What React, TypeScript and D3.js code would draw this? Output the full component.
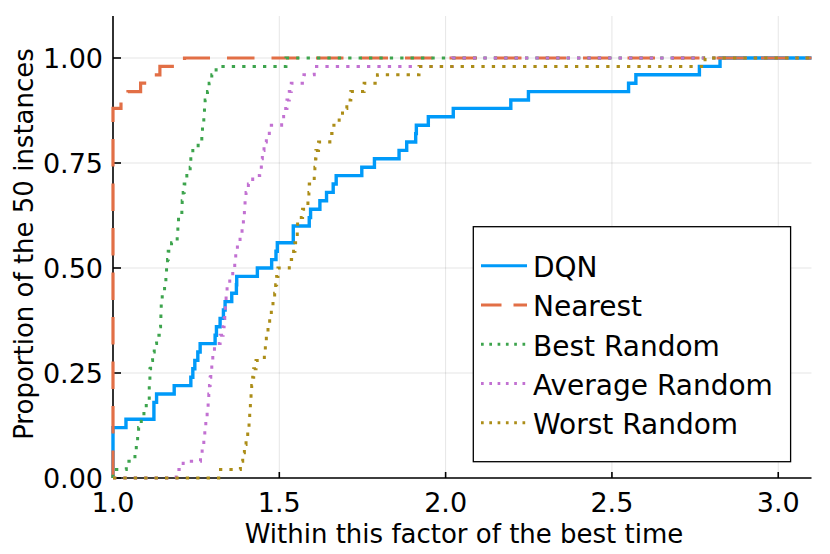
import React from 'react';
import * as d3 from 'd3';

// sorted ratios (time / best time) of the 50 instances
const dqnRatios = [
  1.0, 1.0, 1.0, 1.0, 1.0, 1.0, 1.039, 1.123, 1.123, 1.131,
  1.184, 1.234, 1.24, 1.246, 1.255, 1.262, 1.307, 1.311, 1.322, 1.332,
  1.337, 1.357, 1.371, 1.372, 1.434, 1.477, 1.49, 1.494, 1.542, 1.542,
  1.59, 1.594, 1.622, 1.642, 1.662, 1.671, 1.748, 1.786, 1.86, 1.883,
  1.91, 1.912, 1.948, 2.023, 2.196, 2.249, 2.55, 2.572, 2.763, 2.825,
];

const nearestRatios = [
  1.0, 1.0, 1.0, 1.0, 1.0, 1.0, 1.0, 1.0, 1.0, 1.0,
  1.0, 1.0, 1.0, 1.0, 1.0, 1.0, 1.0, 1.0, 1.0, 1.0,
  1.0, 1.0, 1.0, 1.0, 1.0, 1.0, 1.0, 1.0, 1.0, 1.0,
  1.0, 1.0, 1.0, 1.0, 1.0, 1.0, 1.0, 1.0, 1.0, 1.0,
  1.0, 1.0, 1.0, 1.0, 1.024, 1.045, 1.083, 1.12, 1.141, 1.215,
];

const bestRandomRatios = [
  1.0, 1.04, 1.066, 1.07, 1.074, 1.077, 1.085, 1.093, 1.1, 1.109,
  1.109, 1.111, 1.111, 1.113, 1.119, 1.124, 1.131, 1.139, 1.143, 1.144,
  1.145, 1.148, 1.155, 1.159, 1.161, 1.164, 1.166, 1.176, 1.193, 1.195,
  1.197, 1.207, 1.208, 1.211, 1.214, 1.222, 1.232, 1.234, 1.24, 1.256,
  1.267, 1.269, 1.273, 1.275, 1.277, 1.284, 1.289, 1.297, 1.31, 1.52,
];

const averageRandomRatios = [
  1.19, 1.211, 1.263, 1.268, 1.273, 1.276, 1.279, 1.283, 1.286, 1.288,
  1.29, 1.292, 1.294, 1.297, 1.3, 1.305, 1.322, 1.331, 1.334, 1.336,
  1.338, 1.34, 1.343, 1.351, 1.36, 1.366, 1.369, 1.374, 1.382, 1.388,
  1.392, 1.395, 1.397, 1.4, 1.407, 1.42, 1.441, 1.446, 1.449, 1.454,
  1.461, 1.47, 1.507, 1.513, 1.523, 1.53, 1.536, 1.574, 1.605, 2.02,
];

const worstRandomRatios = [
  1.318, 1.383, 1.39, 1.395, 1.4, 1.405, 1.409, 1.411, 1.413, 1.415,
  1.417, 1.42, 1.423, 1.43, 1.455, 1.458, 1.461, 1.466, 1.471, 1.476,
  1.481, 1.486, 1.489, 1.492, 1.496, 1.53, 1.543, 1.547, 1.549, 1.554,
  1.555, 1.57, 1.586, 1.589, 1.59, 1.605, 1.607, 1.609, 1.61, 1.618,
  1.652, 1.664, 1.68, 1.69, 1.703, 1.715, 1.755, 1.795, 1.92, 2.78,
];

const seriesNames = ['DQN', 'Nearest', 'Best Random', 'Average Random', 'Worst Random'];
const seriesColors = ['#009AF9', '#E26F46', '#3DA44D', '#C271D2', '#AC8D18'];

const xTicks = [1.0, 1.5, 2.0, 2.5, 3.0];
const yTicks = [0, 0.25, 0.5, 0.75, 1.0];

const font = '"DejaVu Sans", sans-serif';

export default function App() {
  const width = 830;
  const height = 554;
  const left = 113, right = 811.5, top = 16, bottom = 478;

  const x = d3.scaleLinear().domain([1, 3.1]).range([left, right]);
  const y = d3.scaleLinear().domain([0, 1.1]).range([bottom, top]);

  const allRatios = [dqnRatios, nearestRatios, bestRandomRatios, averageRandomRatios, worstRandomRatios];
  const styles = [
    { dash: undefined, legendDash: undefined, w: 3.4 },
    { dash: '27.5 17', legendDash: '20.5 12', w: 3.2 },
    { dash: '3.3 7.1', legendDash: '2.7 5.6', w: 3 },
    { dash: '3.3 7.1', legendDash: '2.7 5.6', w: 3 },
    { dash: '3.3 7.1', legendDash: '2.7 5.6', w: 3 },
  ];

  const line = d3.line<[number, number]>()
    .x(d => x(d[0]))
    .y(d => y(d[1]))
    .curve(d3.curveStepAfter);

  const paths = allRatios.map(r => {
    const n = r.length;
    const pts: [number, number][] = [[1, 0], ...r.map((v, i) => [v, (i + 1) / n] as [number, number]), [3.1, 1]];
    return line(pts) || '';
  });

  const legendX = 473.3, legendY = 226.7, legendW = 317.3, legendH = 235;

  return (
    <svg width={width} height={height} style={{ position: 'absolute', left: 0, top: 0, background: '#fff' }}
      fontFamily={font}>
      <rect x={0} y={0} width={width} height={height} fill="#fff" />
      {/* grid */}
      {xTicks.map(t => (
        <line key={'gx' + t} x1={x(t)} x2={x(t)} y1={top} y2={bottom} stroke="#000" strokeOpacity={0.1} strokeWidth={1} />
      ))}
      {yTicks.map(t => (
        <line key={'gy' + t} x1={left} x2={right} y1={y(t)} y2={y(t)} stroke="#000" strokeOpacity={0.1} strokeWidth={1} />
      ))}
      {/* axes */}
      <line x1={left} x2={left} y1={top} y2={bottom} stroke="#000" strokeWidth={1.6} />
      <line x1={left} x2={right} y1={bottom} y2={bottom} stroke="#000" strokeWidth={1.6} />
      {yTicks.map(t => (
        <g key={'ty' + t}>
          <line x1={left} x2={left + 8} y1={y(t)} y2={y(t)} stroke="#000" strokeWidth={1.6} />
          <text x={103} y={y(t) + 10} textAnchor="end" fontSize={27}>{d3.format('.2f')(t)}</text>
        </g>
      ))}
      {xTicks.map(t => (
        <g key={'tx' + t}>
          <line x1={x(t)} x2={x(t)} y1={bottom} y2={bottom - 6} stroke="#000" strokeWidth={1.6} />
          <text x={x(t)} y={512} textAnchor="middle" fontSize={27}>{d3.format('.1f')(t)}</text>
        </g>
      ))}
      <text x={464} y={543} textAnchor="middle" fontSize={26}>Within this factor of the best time</text>
      <text transform="translate(33,244) rotate(-90)" textAnchor="middle" fontSize={26}>Proportion of the 50 instances</text>
      {/* series */}
      {paths.map((d, i) => (
        <path key={'s' + i} d={d} fill="none" stroke={seriesColors[i]} strokeWidth={styles[i].w}
          strokeDasharray={styles[i].dash} strokeLinejoin="miter" strokeLinecap="butt" />
      ))}
      {/* legend */}
      <rect x={legendX} y={legendY} width={legendW} height={legendH} fill="#fff" stroke="#000" strokeWidth={1.3} />
      {seriesNames.map((name, i) => {
        const ly = 265.7 + i * 39.25;
        return (
          <g key={'l' + i}>
            <line x1={481} x2={527} y1={ly} y2={ly} stroke={seriesColors[i]} strokeWidth={3}
              strokeDasharray={styles[i].legendDash} />
            <text x={533} y={ly + 11.5} fontSize={28}>{name}</text>
          </g>
        );
      })}
    </svg>
  );
}
